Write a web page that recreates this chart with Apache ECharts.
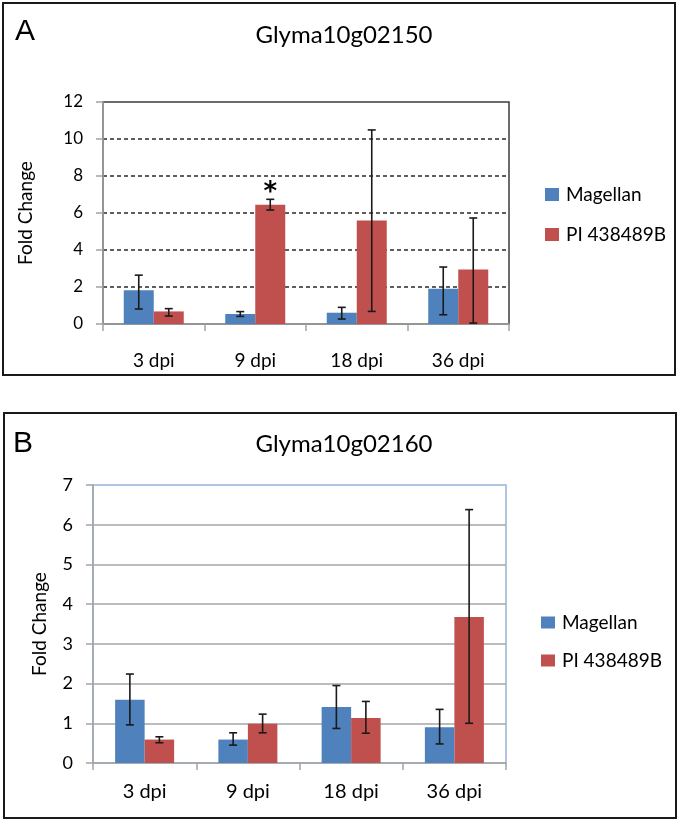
<!DOCTYPE html>
<html><head><meta charset="utf-8">
<script src="https://cdn.jsdelivr.net/npm/echarts@6/dist/echarts.min.js"></script>
<style>html,body{margin:0;padding:0;background:#fff}#c{width:680px;height:821px}</style>
</head><body><div id="c"></div>
<script>
// ---- data ----
const categories = ['3 dpi', '9 dpi', '18 dpi', '36 dpi'];
const seriesNames = ['Magellan', 'PI 438489B'];
// Panel A: Glyma10g02150
const titleA = 'Glyma10g02150';
const aMagellan     = [1.82, 0.54, 0.61, 1.91];
const aMagellanLow  = [0.81, 0.41, 0.27, 0.50];
const aMagellanHigh = [2.64, 0.67, 0.90, 3.08];
const aPI           = [0.68, 6.45, 5.60, 2.95];
const aPILow        = [0.43, 6.16, 0.68, 0.05];
const aPIHigh       = [0.83, 6.74, 10.49, 5.73];
const aPISignif     = ['', '*', '', ''];
const aTicks = [0, 2, 4, 6, 8, 10, 12];
// Panel B: Glyma10g02160
const titleB = 'Glyma10g02160';
const bMagellan     = [1.59, 0.59, 1.41, 0.90];
const bMagellanLow  = [0.96, 0.45, 0.87, 0.48];
const bMagellanHigh = [2.24, 0.76, 1.95, 1.35];
const bPI           = [0.59, 0.99, 1.135, 3.675];
const bPILow        = [0.51, 0.76, 0.75, 1.00];
const bPIHigh       = [0.66, 1.23, 1.55, 6.38];
const bTicks = [0, 1, 2, 3, 4, 5, 6, 7];
const yName = 'Fold Change';

// ---- styling ----
const FONT = 'Lato';
const BLUE = '#4f81bd', RED = '#c0504d';
const AXIS_GRAY = '#a3a3a3';

function errSeries(id, gi, low, high, side, halfBar) {
  return {
    type: 'custom', id: id, xAxisIndex: gi, yAxisIndex: gi, z: 5, silent: true,
    encode: { x: 0, y: [1, 2] },
    data: categories.map((c, i) => [i, low[i], high[i]]),
    renderItem: function (params, api) {
      const i = api.value(0);
      const pl = api.coord([i, api.value(1)]);
      const ph = api.coord([i, api.value(2)]);
      const x = pl[0] + side * halfBar;
      const cap = 4;
      const st = { stroke: '#1a1a1a', lineWidth: 1.6 };
      return { type: 'group', children: [
        { type: 'line', shape: { x1: x, y1: pl[1], x2: x, y2: ph[1] }, style: st },
        { type: 'line', shape: { x1: x - cap, y1: pl[1], x2: x + cap, y2: pl[1] }, style: st },
        { type: 'line', shape: { x1: x - cap, y1: ph[1], x2: x + cap, y2: ph[1] }, style: st }
      ]};
    }
  };
}

function yAxisCfg(gi, ticks, labelSize, dashed, nameGap) {
  return {
    type: 'value', gridIndex: gi, min: ticks[0], max: ticks[ticks.length - 1],
    interval: ticks[1] - ticks[0],
    name: yName, nameLocation: 'middle', nameGap: nameGap, nameRotate: 90,
    nameTextStyle: { fontFamily: FONT, fontSize: 19, color: '#000' },
    axisLine: { show: true, lineStyle: { color: AXIS_GRAY, width: 1.5 } },
    axisTick: { show: true, length: 7, lineStyle: { color: AXIS_GRAY, width: 1.5 } },
    axisLabel: { fontFamily: FONT, fontSize: labelSize, color: '#000', margin: 20 },
    splitLine: { show: true, showMaxLine: false, showMinLine: false, lineStyle: dashed
      ? { color: '#2a2a2a', width: 1.5, type: [4, 3] }
      : { color: '#a6a6a6', width: 1.5 } }
  };
}

function xAxisCfg(gi, labelSize, margin) {
  return {
    type: 'category', gridIndex: gi, data: categories,
    axisLine: { show: true, lineStyle: { color: AXIS_GRAY, width: 1.5 } },
    axisTick: { show: true, length: 7, lineStyle: { color: AXIS_GRAY, width: 1.5 } },
    axisLabel: { fontFamily: FONT, fontSize: labelSize, color: '#000', margin: margin },
    splitLine: { show: false }
  };
}

const chart = echarts.init(document.getElementById('c'), null, { renderer: 'canvas' });
chart.setOption({
  animation: false,
  backgroundColor: '#fff',
  textStyle: { fontFamily: FONT },
  title: [
    { text: titleA, left: 339, top: 18, textAlign: 'center',
      textStyle: { fontFamily: FONT, fontSize: 24, fontWeight: 'normal', color: '#000' } },
    { text: titleB, left: 339, top: 427, textAlign: 'center',
      textStyle: { fontFamily: FONT, fontSize: 24, fontWeight: 'normal', color: '#000' } }
  ],
  graphic: [
    { type: 'rect', shape: { x: 3, y: 3, width: 672, height: 372 },
      style: { fill: 'none', stroke: '#1a1a1a', lineWidth: 2 }, z: 100 },
    { type: 'rect', shape: { x: 4, y: 413, width: 672, height: 405 },
      style: { fill: 'none', stroke: '#1a1a1a', lineWidth: 2 }, z: 100 },
    { type: 'text', left: 15, top: 17, style: { text: 'A', font: '30px "Liberation Sans"', fill: '#000' } },
    { type: 'text', left: 13, top: 429, style: { text: 'B', font: '30px "Liberation Sans"', fill: '#000' } }
  ],
  legend: [
    { data: seriesNames, orient: 'vertical', left: 540, top: 180, itemWidth: 14, itemHeight: 13,
      itemGap: 21, icon: 'rect', selectedMode: false,
      textStyle: { fontFamily: FONT, fontSize: 19, color: '#000', padding: [0, 0, 0, 2] } },
    { data: seriesNames, orient: 'vertical', left: 536, top: 608, itemWidth: 14, itemHeight: 12,
      itemGap: 19, icon: 'rect', selectedMode: false,
      textStyle: { fontFamily: FONT, fontSize: 19, color: '#000', padding: [0, 0, 0, 2] } }
  ],
  grid: [
    { left: 103, top: 102, width: 406, height: 222, show: true, borderColor: '#3c3c3c', borderWidth: 1.5 },
    { left: 93, top: 485, width: 413, height: 278, show: true, borderColor: '#95b3d7', borderWidth: 1.5 }
  ],
  xAxis: [ xAxisCfg(0, 19, 27), xAxisCfg(1, 20, 19) ],
  yAxis: [ yAxisCfg(0, aTicks, 17, true, 68), yAxisCfg(1, bTicks, 18, false, 44) ],
  series: [
    { type: 'bar', name: seriesNames[0], xAxisIndex: 0, yAxisIndex: 0, data: aMagellan,
      barWidth: 30, barGap: '0%', itemStyle: { color: BLUE } },
    { type: 'bar', name: seriesNames[1], xAxisIndex: 0, yAxisIndex: 0,
      data: aPI.map((v, i) => ({ value: v, label: { show: aPISignif[i] !== '', formatter: aPISignif[i] } })),
      barWidth: 30, barGap: '0%', itemStyle: { color: RED },
      label: { position: 'top', distance: -2, fontFamily: '"DejaVu Sans"', fontSize: 26, fontWeight: 'bold', color: '#000' } },
    errSeries('aMagErr', 0, aMagellanLow, aMagellanHigh, -1, 15),
    errSeries('aPIErr', 0, aPILow, aPIHigh, 1, 15),
    { type: 'bar', name: seriesNames[0], xAxisIndex: 1, yAxisIndex: 1, data: bMagellan,
      barWidth: 29.5, barGap: '0%', itemStyle: { color: BLUE } },
    { type: 'bar', name: seriesNames[1], xAxisIndex: 1, yAxisIndex: 1, data: bPI,
      barWidth: 29.5, barGap: '0%', itemStyle: { color: RED } },
    errSeries('bMagErr', 1, bMagellanLow, bMagellanHigh, -1, 14.75),
    errSeries('bPIErr', 1, bPILow, bPIHigh, 1, 14.75)
  ]
});
</script>
</body></html>
